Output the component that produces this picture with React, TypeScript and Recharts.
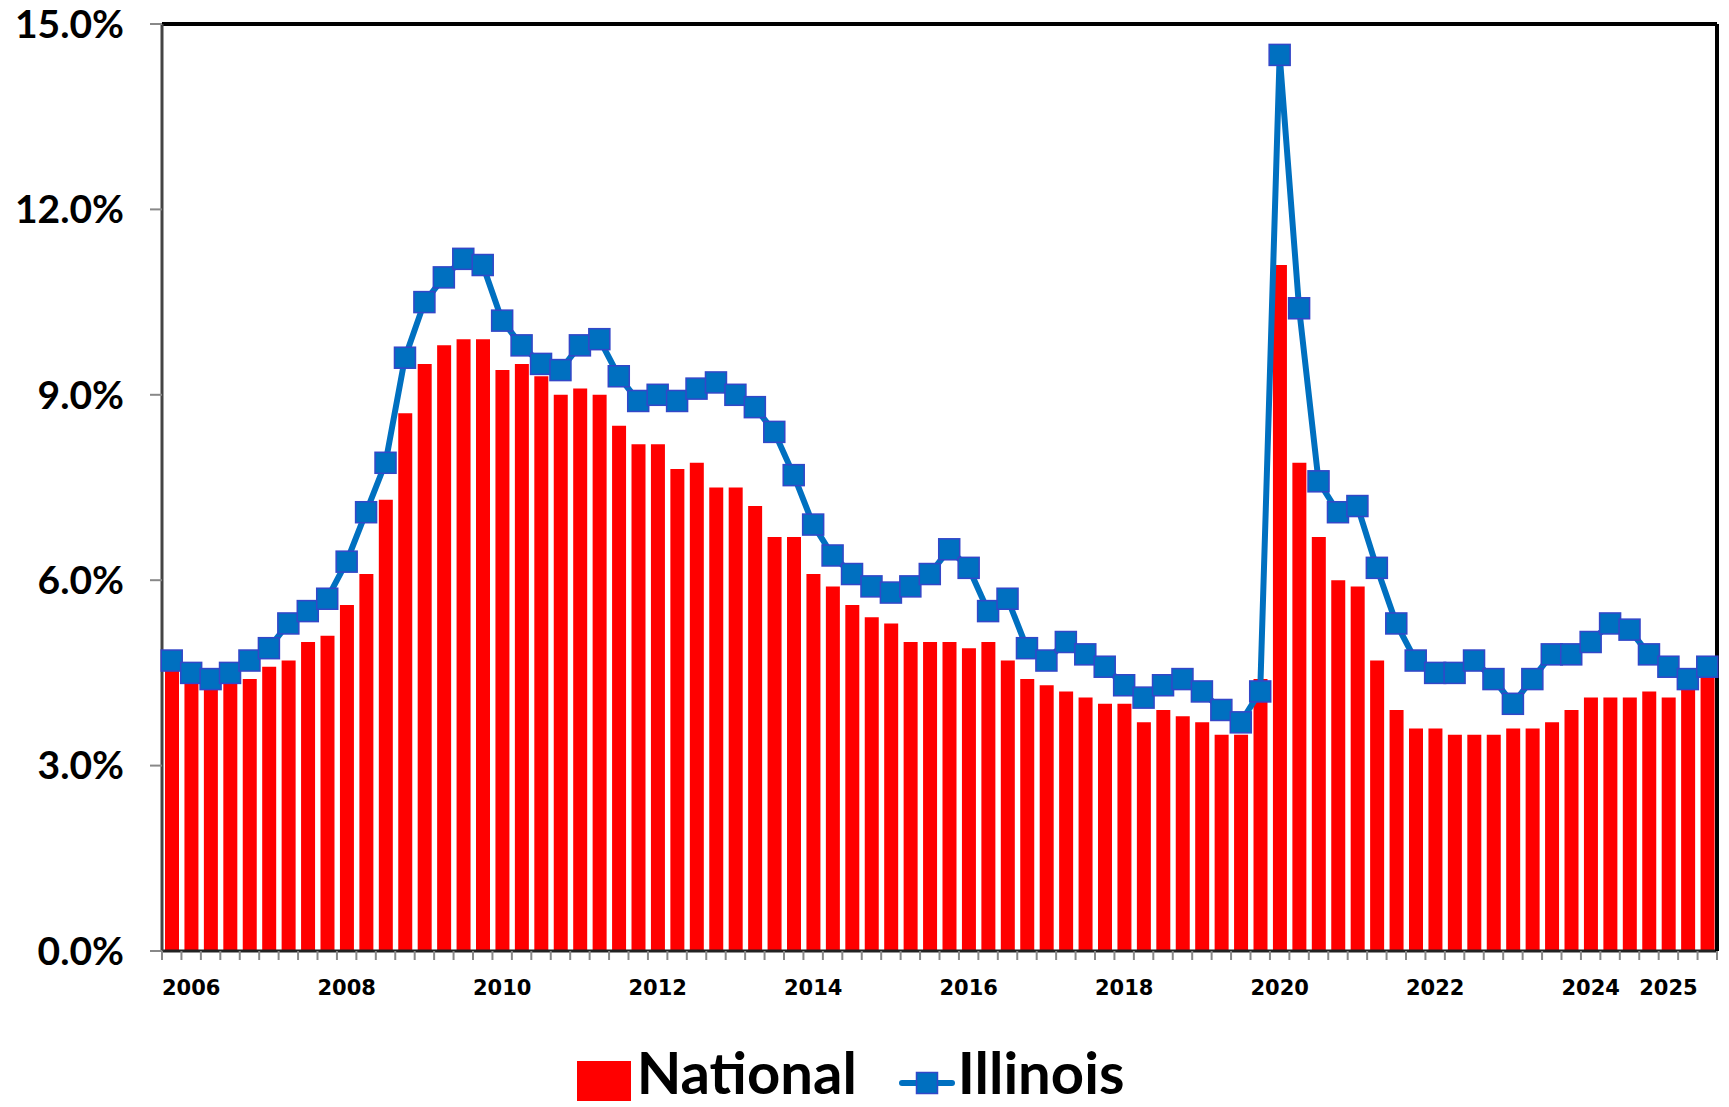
import React from 'react';
import { ComposedChart, Bar, Line, XAxis, YAxis, CartesianGrid, ReferenceLine, Legend } from 'recharts';

const years = [2006, 2007, 2008, 2009, 2010, 2011, 2012, 2013, 2014, 2015, 2016, 2017, 2018, 2019, 2020, 2021, 2022, 2023, 2024, 2025];
const quarterNames = ['Q1', 'Q2', 'Q3', 'Q4'];
const categories = years.flatMap((y) => quarterNames.map((q) => `${y} ${q}`));

const national = [
  4.7, 4.6, 4.5, 4.4, 4.4, 4.6, 4.7, 5.0,
  5.1, 5.6, 6.1, 7.3, 8.7, 9.5, 9.8, 9.9,
  9.9, 9.4, 9.5, 9.3, 9.0, 9.1, 9.0, 8.5,
  8.2, 8.2, 7.8, 7.9, 7.5, 7.5, 7.2, 6.7,
  6.7, 6.1, 5.9, 5.6, 5.4, 5.3, 5.0, 5.0,
  5.0, 4.9, 5.0, 4.7, 4.4, 4.3, 4.2, 4.1,
  4.0, 4.0, 3.7, 3.9, 3.8, 3.7, 3.5, 3.5,
  4.4, 11.1, 7.9, 6.7, 6.0, 5.9, 4.7, 3.9,
  3.6, 3.6, 3.5, 3.5, 3.5, 3.6, 3.6, 3.7,
  3.9, 4.1, 4.1, 4.1, 4.2, 4.1, 4.3, 4.5,
];

const illinois = [
  4.7, 4.5, 4.4, 4.5, 4.7, 4.9, 5.3, 5.5,
  5.7, 6.3, 7.1, 7.9, 9.6, 10.5, 10.9, 11.2,
  11.1, 10.2, 9.8, 9.5, 9.4, 9.8, 9.9, 9.3,
  8.9, 9.0, 8.9, 9.1, 9.2, 9.0, 8.8, 8.4,
  7.7, 6.9, 6.4, 6.1, 5.9, 5.8, 5.9, 6.1,
  6.5, 6.2, 5.5, 5.7, 4.9, 4.7, 5.0, 4.8,
  4.6, 4.3, 4.1, 4.3, 4.4, 4.2, 3.9, 3.7,
  4.2, 14.5, 10.4, 7.6, 7.1, 7.2, 6.2, 5.3,
  4.7, 4.5, 4.5, 4.7, 4.4, 4.0, 4.4, 4.8,
  4.8, 5.0, 5.3, 5.2, 4.8, 4.6, 4.4, 4.6,
];

const yTicks = [0, 3, 6, 9, 12, 15];
const yearLabelCats = ['2006 Q2', '2008 Q2', '2010 Q2', '2012 Q2', '2014 Q2', '2016 Q2', '2018 Q2', '2020 Q2', '2022 Q2', '2024 Q2', '2025 Q2'];

const data = categories.map((q, i) => ({ q, national: national[i], illinois: illinois[i] }));

const W = 1729;
const H = 1107;
const Y_AXIS_W = 162;
const RIGHT_AXIS_W = 12;
const BAND = (W - Y_AXIS_W - RIGHT_AXIS_W) / categories.length;

const RED = '#FF0000';
const BLUE = '#0070C0';
const MARKER_EDGE = '#3347C8';
const LEGEND_FONT = 58;

function XTick(props: any) {
  const { x, y, payload } = props;
  const left = x - BAND / 2;
  const isLast = payload.value === categories[categories.length - 1];
  const label = yearLabelCats.includes(payload.value) ? String(payload.value).slice(0, 4) : null;
  return (
    <g>
      <line x1={left} x2={left} y1={y} y2={y + 9} stroke="#888" strokeWidth={2} />
      {isLast && <line x1={x + BAND / 2} x2={x + BAND / 2} y1={y} y2={y + 9} stroke="#888" strokeWidth={2} />}
      {label && (
        <text x={x} y={y + 44} textAnchor="middle" fontFamily="DejaVu Sans" fontWeight={700} fontSize={21} fill="#000">
          {label}
        </text>
      )}
    </g>
  );
}

function SquareDot(props: any) {
  const { cx, cy, index } = props;
  if (cx == null || cy == null) return <g key={`d-${index}`} />;
  return (
    <rect key={`d-${index}`} x={cx - 10.5} y={cy - 10.5} width={21} height={21} fill={BLUE} stroke={MARKER_EDGE} strokeWidth={1.5} />
  );
}

function LegendContent() {
  return (
    <div
      style={{
        width: W,
        height: 96,
        boxSizing: 'border-box',
        paddingTop: 32,
        paddingRight: 28,
        display: 'flex',
        justifyContent: 'center',
        alignItems: 'flex-start',
        fontFamily: 'Lato, "Open Sans", sans-serif',
        fontWeight: 700,
        fontSize: LEGEND_FONT,
        lineHeight: `${LEGEND_FONT}px`,
        color: '#000',
      }}
    >
      <span style={{ display: 'inline-block', width: 54, height: 40, background: RED, marginRight: 6, marginTop: 18 }} />
      <span>National</span>
      <svg width={56} height={24} style={{ marginLeft: 42, marginRight: 3, marginTop: 28 }}>
        <line x1={3} x2={53} y1={12} y2={12} stroke={BLUE} strokeWidth={6} strokeLinecap="round" />
        <rect x={17.5} y={1.5} width={21} height={21} fill={BLUE} stroke={MARKER_EDGE} strokeWidth={1.5} />
      </svg>
      <span>Illinois</span>
    </div>
  );
}

export default function App() {
  return (
    <div style={{ position: 'absolute', left: 0, top: 0, width: W, height: H, background: '#fff', overflow: 'hidden' }}>
      <ComposedChart width={W} height={H} data={data} margin={{ top: 24, right: 0, bottom: 0, left: 0 }} barSize={14}>
        <CartesianGrid vertical={false} stroke="#888" strokeWidth={2} />
        <XAxis
          dataKey="q"
          interval={0}
          height={60}
          tickLine={false}
          tickSize={0}
          tickMargin={0}
          axisLine={{ stroke: '#222', strokeWidth: 3 }}
          tick={<XTick />}
        />
        <YAxis
          yAxisId="left"
          width={Y_AXIS_W}
          domain={[0, 15]}
          ticks={yTicks}
          interval={0}
          tickFormatter={(v: number) => `${v.toFixed(1)}%`}
          tick={{ fontFamily: 'Lato, "Open Sans", sans-serif', fontWeight: 700, fontSize: 39, fill: '#000' }}
          tickSize={12}
          tickMargin={26}
          tickLine={{ stroke: '#888', strokeWidth: 2 }}
          axisLine={{ stroke: '#444', strokeWidth: 3 }}
        />
        <YAxis
          yAxisId="right"
          orientation="right"
          width={RIGHT_AXIS_W}
          domain={[0, 15]}
          ticks={yTicks}
          tick={false}
          tickLine={false}
          axisLine={{ stroke: '#000', strokeWidth: 4 }}
        />
        <ReferenceLine yAxisId="left" y={15} stroke="#000" strokeWidth={4} />
        <Legend verticalAlign="bottom" content={<LegendContent />} wrapperStyle={{ left: 0, width: W, bottom: 0 }} />
        <Bar yAxisId="left" dataKey="national" name="National" fill={RED} isAnimationActive={false} />
        <Line
          yAxisId="left"
          type="linear"
          dataKey="illinois"
          name="Illinois"
          stroke={BLUE}
          strokeWidth={6}
          dot={SquareDot}
          activeDot={false}
          isAnimationActive={false}
        />
      </ComposedChart>
    </div>
  );
}
